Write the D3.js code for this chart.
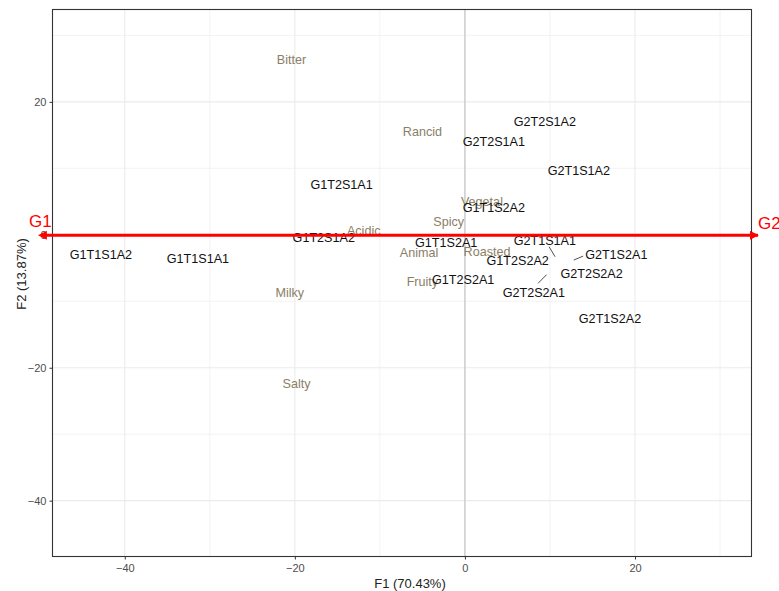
<!DOCTYPE html>
<html>
<head>
<meta charset="utf-8">
<script src="https://cdn.jsdelivr.net/npm/d3@7"></script>
<style>
  body { margin: 0; background: #fff; }
  text { font-family: "Liberation Sans", Arial, sans-serif; }
</style>
</head>
<body>
<svg id="chart" width="779" height="591"></svg>
<script>
// -------------- DATA ----------------- //
const sampleNames = ["G1T1S1A2", "G1T1S1A1", "G1T2S1A1", "G1T2S1A2", "G1T1S2A2", "G1T1S2A1",
  "G1T2S2A1", "G1T2S2A2", "G2T2S1A2", "G2T2S1A1", "G2T1S1A2", "G2T1S1A1",
  "G2T1S2A1", "G2T2S2A2", "G2T2S2A1", "G2T1S2A2"];
const sampleX = [-42.8, -31.4, -14.5, -16.6, 3.4, -2.2, -0.2, 6.2, 9.4, 3.4, 13.4, 9.4, 17.8, 14.9, 8.1, 17.06];
const sampleY = [-3.0, -3.6, 7.5, -0.45, 4.1, -1.2, -6.8, -3.9, 17.1, 14.0, 9.6, -0.9, -3.0, -5.8, -8.7, -12.6];

// repelled labels: where the point actually sits
const repelNames = ["G2T1S1A1", "G2T1S2A1", "G2T2S2A1"];
const repelPointX = [10.6, 12.8, 9.6];
const repelPointY = [-3.3, -3.8, -6.0];
const repelStartX = [9.9, 13.9, 8.6];
const repelStartY = [-1.8, -3.2, -7.3];

const attrNames = ["Bitter", "Rancid", "Vegetal", "Spicy", "Acidic", "Animal", "Roasted", "Fruity", "Milky", "Salty"];
const attrX = [-20.4, -5.0, 2.0, -1.9, -11.9, -5.4, 2.6, -5.0, -20.6, -19.8];
const attrY = [26.3, 15.5, 5.0, 2.0, 0.6, -2.7, -2.5, -7.1, -8.7, -22.4];

const xTicks = [-40, -20, 0, 20];
const yTicks = [-40, -20, 0, 20];
const xMinor = [-30, -10, 10, 30];
const yMinor = [-30, -10, 10, 30];

// -------------- SETUP ----------------- //
const svg = d3.select("#chart");
const pLeft = 52.5, pRight = 751.5, pTop = 9.5, pBottom = 556.5;

const x = d3.scaleLinear().domain([-48.5, 33.7]).range([pLeft, pRight]);
const y = d3.scaleLinear().domain([-48.4, 33.9]).range([pBottom, pTop]);

// grid
const grid = svg.append("g");
grid.selectAll(".vminor").data(xMinor).join("line")
  .attr("x1", d => x(d)).attr("x2", d => x(d)).attr("y1", pTop).attr("y2", pBottom)
  .attr("stroke", "#ebebeb").attr("stroke-width", 0.6);
grid.selectAll(".hminor").data(yMinor).join("line")
  .attr("y1", d => y(d)).attr("y2", d => y(d)).attr("x1", pLeft).attr("x2", pRight)
  .attr("stroke", "#ebebeb").attr("stroke-width", 0.6);
grid.selectAll(".vmajor").data(xTicks).join("line")
  .attr("x1", d => x(d)).attr("x2", d => x(d)).attr("y1", pTop).attr("y2", pBottom)
  .attr("stroke", "#ebebeb").attr("stroke-width", 1.1);
grid.selectAll(".hmajor").data(yTicks).join("line")
  .attr("y1", d => y(d)).attr("y2", d => y(d)).attr("x1", pLeft).attr("x2", pRight)
  .attr("stroke", "#ebebeb").attr("stroke-width", 1.1);

// zero line
svg.append("line")
  .attr("x1", x(0)).attr("x2", x(0)).attr("y1", pTop).attr("y2", pBottom)
  .attr("stroke", "#bdbdbd").attr("stroke-width", 1);

// axes
const xAxis = svg.append("g")
  .attr("transform", `translate(0,${pBottom})`)
  .call(d3.axisBottom(x).tickValues(xTicks).tickSize(3).tickPadding(5));
const yAxis = svg.append("g")
  .attr("transform", `translate(${pLeft},0)`)
  .call(d3.axisLeft(y).tickValues(yTicks).tickSize(3).tickPadding(3));
[xAxis, yAxis].forEach(a => {
  a.select(".domain").remove();
  a.selectAll(".tick line").attr("stroke", "#333");
  a.selectAll(".tick text").attr("fill", "#4d4d4d")
    .style("font-size", "11px").style("font-family", "'Liberation Sans', Arial, sans-serif");
});

// panel border
svg.append("rect")
  .attr("x", pLeft).attr("y", pTop).attr("width", pRight - pLeft).attr("height", pBottom - pTop)
  .attr("fill", "none").attr("stroke", "#333").attr("stroke-width", 1.1);

// axis titles
svg.append("text")
  .attr("x", (pLeft + pRight) / 2 + 8).attr("y", 588)
  .attr("text-anchor", "middle").attr("fill", "#222")
  .style("font-size", "13px").text("F1 (70.43%)");
svg.append("text")
  .attr("transform", `translate(26,${(pTop + pBottom) / 2 - 9}) rotate(-90)`)
  .attr("text-anchor", "middle").attr("fill", "#222")
  .style("font-size", "13px").text("F2 (13.87%)");

// attribute labels
svg.append("g").selectAll("text").data(attrNames).join("text")
  .attr("x", (d, i) => x(attrX[i])).attr("y", (d, i) => y(attrY[i]))
  .attr("dy", "0.35em").attr("text-anchor", "middle")
  .attr("fill", "#8B7E66").style("font-size", "12.6px")
  .text(d => d);

// leader segments
svg.append("g").selectAll("line").data(repelNames).join("line")
  .attr("x1", (d, i) => x(repelPointX[i])).attr("y1", (d, i) => y(repelPointY[i]))
  .attr("x2", (d, i) => x(repelStartX[i])).attr("y2", (d, i) => y(repelStartY[i]))
  .attr("stroke", "#222").attr("stroke-width", 0.8);

// sample labels
svg.append("g").selectAll("text").data(sampleNames).join("text")
  .attr("x", (d, i) => x(sampleX[i])).attr("y", (d, i) => y(sampleY[i]))
  .attr("dy", "0.35em").attr("text-anchor", "middle")
  .attr("fill", "#111").style("font-size", "12.6px")
  .text(d => d);

// red arrow G1 <-> G2
const defs = svg.append("defs");
["start", "end"].forEach(k => {
  defs.append("marker")
    .attr("id", "arr-" + k)
    .attr("viewBox", "0 0 10 10").attr("refX", k === "end" ? 9 : 1).attr("refY", 5)
    .attr("markerWidth", 3).attr("markerHeight", 3)
    .attr("orient", "auto-start-reverse")
    .append("path").attr("d", "M0,0 L10,5 L0,10 Z").attr("fill", "#ff0000");
});
svg.append("line")
  .attr("x1", 46).attr("x2", 758).attr("y1", y(0) + 0.5).attr("y2", y(0) + 0.5)
  .attr("stroke", "#ff0000").attr("stroke-width", 3)
  .attr("marker-start", "url(#arr-start)").attr("marker-end", "url(#arr-end)");
svg.append("text").attr("x", 29).attr("y", 227)
  .attr("fill", "#ff0000").style("font-size", "17px").text("G1");
svg.append("text").attr("x", 758).attr("y", 229)
  .attr("fill", "#ff0000").style("font-size", "17px").text("G2");
</script>
</body>
</html>
